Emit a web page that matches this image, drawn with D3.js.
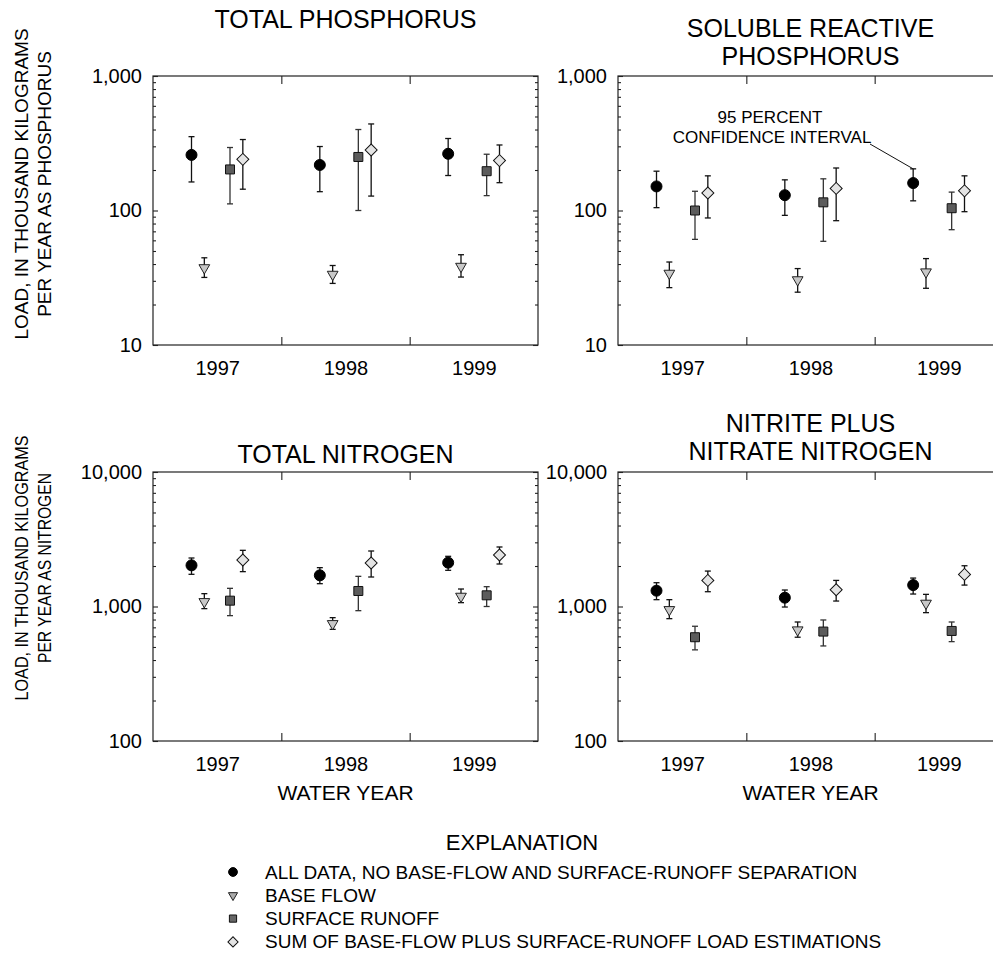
<!DOCTYPE html>
<html><head><meta charset="utf-8">
<script src="https://cdn.jsdelivr.net/npm/d3@7"></script>
<style>
body{margin:0;background:#fff}
text{font-family:"Liberation Sans",Arial,Helvetica,sans-serif;fill:#000}
</style>
</head><body>
<svg id="chart" width="993" height="954"></svg>
<script>
// ---------- DATA ----------
const years = ["1997", "1998", "1999"];
const seriesNames = [
  "ALL DATA, NO BASE-FLOW AND SURFACE-RUNOFF SEPARATION",
  "BASE FLOW",
  "SURFACE RUNOFF",
  "SUM OF BASE-FLOW PLUS SURFACE-RUNOFF LOAD ESTIMATIONS"
];
// rows = series (all data, base flow, surface runoff, sum), columns = years
const tpValues = [[259, 218, 264], [37.5, 33.5, 38.4], [202, 250, 196], [240, 282, 235]];
const tpLower  = [[163, 138, 182], [31.8, 28.7, 32.0], [112, 100, 129], [144, 128, 161]];
const tpUpper  = [[354, 299, 343], [44.5, 39.0, 46.9], [294, 400, 262], [337, 440, 307]];

const srpValues = [[151, 130, 160], [34.1, 30.5, 34.9], [100, 115, 104], [135, 146, 140]];
const srpLower  = [[105, 92, 118], [26.7, 24.7, 26.4], [61, 59, 72], [88, 84, 98]];
const srpUpper  = [[196, 169, 204], [41.4, 37.0, 43.9], [139, 172, 137], [181, 207, 181]];

const tnValues = [[2023, 1705, 2118], [1086, 745, 1190], [1105, 1304, 1211], [2217, 2106, 2415]];
const tnLower  = [[1735, 1478, 1858], [964, 676, 1068], [855, 931, 1000], [1816, 1657, 2070]];
const tnUpper  = [[2294, 1944, 2361], [1246, 826, 1349], [1365, 1676, 1404], [2616, 2586, 2770]];

const nnValues = [[1311, 1163, 1443], [947, 669, 1056], [591, 651, 658], [1563, 1333, 1732]];
const nnLower  = [[1124, 991, 1238], [812, 591, 900], [476, 509, 548], [1288, 1098, 1443]];
const nnUpper  = [[1503, 1326, 1627], [1124, 767, 1231], [713, 794, 767], [1834, 1563, 2009]];

const phosphorusTicks = [10, 100, 1000];
const nitrogenTicks = [100, 1000, 10000];
const yLabelPhosphorus = ["LOAD, IN THOUSAND KILOGRAMS", "PER YEAR AS PHOSPHORUS"];
const yLabelNitrogen = ["LOAD, IN THOUSAND KILOGRAMS", "PER YEAR AS NITROGEN"];
const xLabel = "WATER YEAR";
const annotationText = ["95 PERCENT", "CONFIDENCE INTERVAL"];

// ---------- LAYOUT ----------
const svg = d3.select("#chart");
const PW = 385, PH = 269;
const panels = [
  {title: ["TOTAL PHOSPHORUS"], titleY: 28, values: tpValues, lower: tpLower, upper: tpUpper, ticks: phosphorusTicks, left: 153, top: 76, xTitle: false},
  {title: ["SOLUBLE REACTIVE", "PHOSPHORUS"], titleY: 37, values: srpValues, lower: srpLower, upper: srpUpper, ticks: phosphorusTicks, left: 618, top: 76, xTitle: false},
  {title: ["TOTAL NITROGEN"], titleY: 463, values: tnValues, lower: tnLower, upper: tnUpper, ticks: nitrogenTicks, left: 153, top: 472, xTitle: true},
  {title: ["NITRITE PLUS", "NITRATE NITROGEN"], titleY: 432, values: nnValues, lower: nnLower, upper: nnUpper, ticks: nitrogenTicks, left: 618, top: 472, xTitle: true}
];
// within-year horizontal offset of each series (fraction of year band)
const seriesOffset = [0.3, 0.4, 0.6, 0.7];
const styles = [
  {type: "circle", fill: "#000", stroke: "#000"},
  {type: "triangle", fill: "#c8c8c8", stroke: "#222"},
  {type: "square", fill: "#5c5c5c", stroke: "#111"},
  {type: "diamond", fill: "#e4e4e4", stroke: "#111"}
];
function symbolPath(type, scale) {
  const s = scale || 1;
  if (type === "circle") return d3.symbol(d3.symbolCircle, 95 * s * s)();
  if (type === "square") return d3.symbol(d3.symbolSquare, 81 * s * s)();
  if (type === "diamond") return d3.symbol(d3.symbolSquare, 72 * s * s)();
  return d3.symbol(d3.symbolTriangle, 50 * s * s)();
}
function symbolRotate(type) {
  if (type === "diamond") return 45;
  if (type === "triangle") return 180;
  return 0;
}
const fmt = d3.format(",");
const scales = [];

panels.forEach((p, pi) => {
  const x = d3.scaleLinear().domain([0, years.length]).range([p.left, p.left + PW]);
  const y = d3.scaleLog().domain([p.ticks[0], p.ticks[2]]).range([p.top + PH, p.top]);
  scales.push({x, y});
  const g = svg.append("g");
  const minors = [];
  for (let d = p.ticks[0]; d < p.ticks[2]; d *= 10) for (let k = 2; k <= 9; k++) minors.push(d * k);

  // frame
  g.append("rect").attr("x", p.left).attr("y", p.top).attr("width", PW).attr("height", PH)
    .attr("fill", "none").attr("stroke", "#222").attr("stroke-width", 1.2);

  // left axis
  const la = g.append("g").attr("transform", `translate(${p.left},0)`)
    .call(d3.axisLeft(y).tickValues(p.ticks).tickFormat(fmt).tickSize(-5).tickPadding(11));
  la.select(".domain").remove();
  la.selectAll("text").style("font-size", "20px").style("font-family", "Liberation Sans, Arial, sans-serif");
  const lm = g.append("g").attr("transform", `translate(${p.left},0)`)
    .call(d3.axisLeft(y).tickValues(minors).tickFormat("").tickSize(-3));
  lm.select(".domain").remove();
  // right axis (mirror ticks)
  const ra = g.append("g").attr("transform", `translate(${p.left + PW},0)`)
    .call(d3.axisRight(y).tickValues(p.ticks).tickFormat("").tickSize(-5));
  ra.select(".domain").remove();
  const rm = g.append("g").attr("transform", `translate(${p.left + PW},0)`)
    .call(d3.axisRight(y).tickValues(minors).tickFormat("").tickSize(-3));
  rm.select(".domain").remove();
  // year boundary ticks
  const bounds = d3.range(1, years.length);
  const bt = g.append("g").attr("transform", `translate(0,${p.top + PH})`)
    .call(d3.axisBottom(x).tickValues(bounds).tickFormat("").tickSize(-8));
  bt.select(".domain").remove();
  const tt = g.append("g").attr("transform", `translate(0,${p.top})`)
    .call(d3.axisTop(x).tickValues(bounds).tickFormat("").tickSize(-8));
  tt.select(".domain").remove();
  // year labels
  const yl = g.append("g").attr("transform", `translate(0,${p.top + PH})`)
    .call(d3.axisBottom(x).tickValues(years.map((d, i) => i + 0.5)).tickFormat((d, i) => years[i]).tickSize(0).tickPadding(16));
  yl.select(".domain").remove();
  yl.selectAll("text").style("font-size", "20px").style("font-family", "Liberation Sans, Arial, sans-serif");
  g.selectAll(".tick line").attr("stroke", "#222").attr("stroke-width", 1.1);

  // title
  const cx = p.left + PW / 2;
  p.title.forEach((t, i) => {
    g.append("text").attr("x", cx).attr("y", p.titleY + i * 28).attr("text-anchor", "middle")
      .style("font-size", "25px").text(t);
  });
  if (p.xTitle) {
    g.append("text").attr("x", cx).attr("y", p.top + PH + 59).attr("text-anchor", "middle")
      .style("font-size", "21px").text(xLabel);
  }

  // data
  p.values.forEach((row, si) => {
    const st = styles[si];
    row.forEach((v, yi) => {
      const px = x(yi + seriesOffset[si]);
      const lo = y(p.lower[si][yi]), hi = y(p.upper[si][yi]);
      const eb = g.append("g").attr("stroke", si === 2 ? "#333" : "#111").attr("stroke-width", 1.3);
      eb.append("line").attr("x1", px).attr("x2", px).attr("y1", lo).attr("y2", hi);
      eb.append("line").attr("x1", px - 3).attr("x2", px + 3).attr("y1", lo).attr("y2", lo);
      eb.append("line").attr("x1", px - 3).attr("x2", px + 3).attr("y1", hi).attr("y2", hi);
      g.append("path").attr("d", symbolPath(st.type, 1))
        .attr("transform", `translate(${px},${y(v)}) rotate(${symbolRotate(st.type)})`)
        .attr("fill", st.fill).attr("stroke", st.stroke).attr("stroke-width", 1);
    });
  });
});

// annotation in soluble reactive phosphorus panel
{
  const s = scales[1];
  svg.append("text").attr("x", 770).attr("y", 123).attr("text-anchor", "middle").style("font-size", "17px").text(annotationText[0]);
  svg.append("text").attr("x", 772).attr("y", 143).attr("text-anchor", "middle").style("font-size", "17px").text(annotationText[1]);
  svg.append("line").attr("x1", 870).attr("y1", 144)
    .attr("x2", s.x(2 + seriesOffset[0])).attr("y2", s.y(srpUpper[0][2]))
    .attr("stroke", "#111").attr("stroke-width", 1);
}

// y-axis labels
function yLabel(lines, cy, lengths) {
  lines.forEach((t, i) => {
    const tx = svg.append("text").attr("transform", `translate(${28 + i * 23},${cy}) rotate(-90)`)
      .attr("text-anchor", "middle").style("font-size", "19px").text(t);
    if (lengths) tx.attr("textLength", lengths[i]).attr("lengthAdjust", "spacingAndGlyphs");
  });
}
yLabel(yLabelPhosphorus, 184, null);
yLabel(yLabelNitrogen, 568, [265, 190]);

// legend
svg.append("text").attr("x", 522).attr("y", 850).attr("text-anchor", "middle").style("font-size", "22px").text("EXPLANATION");
const legendScale = [0.8, 0.85, 0.8, 0.85];
seriesNames.forEach((name, i) => {
  const yy = 872 + i * 23.3;
  const st = styles[i];
  svg.append("path").attr("d", symbolPath(st.type, legendScale[i]))
    .attr("transform", `translate(233,${yy}) rotate(${symbolRotate(st.type)})`)
    .attr("fill", i === 1 ? "#aaa" : (i === 2 ? "#666" : st.fill)).attr("stroke", st.stroke).attr("stroke-width", 1);
  svg.append("text").attr("x", 265).attr("y", yy + 6.5).style("font-size", "19px").text(name);
});
</script>
</body></html>
